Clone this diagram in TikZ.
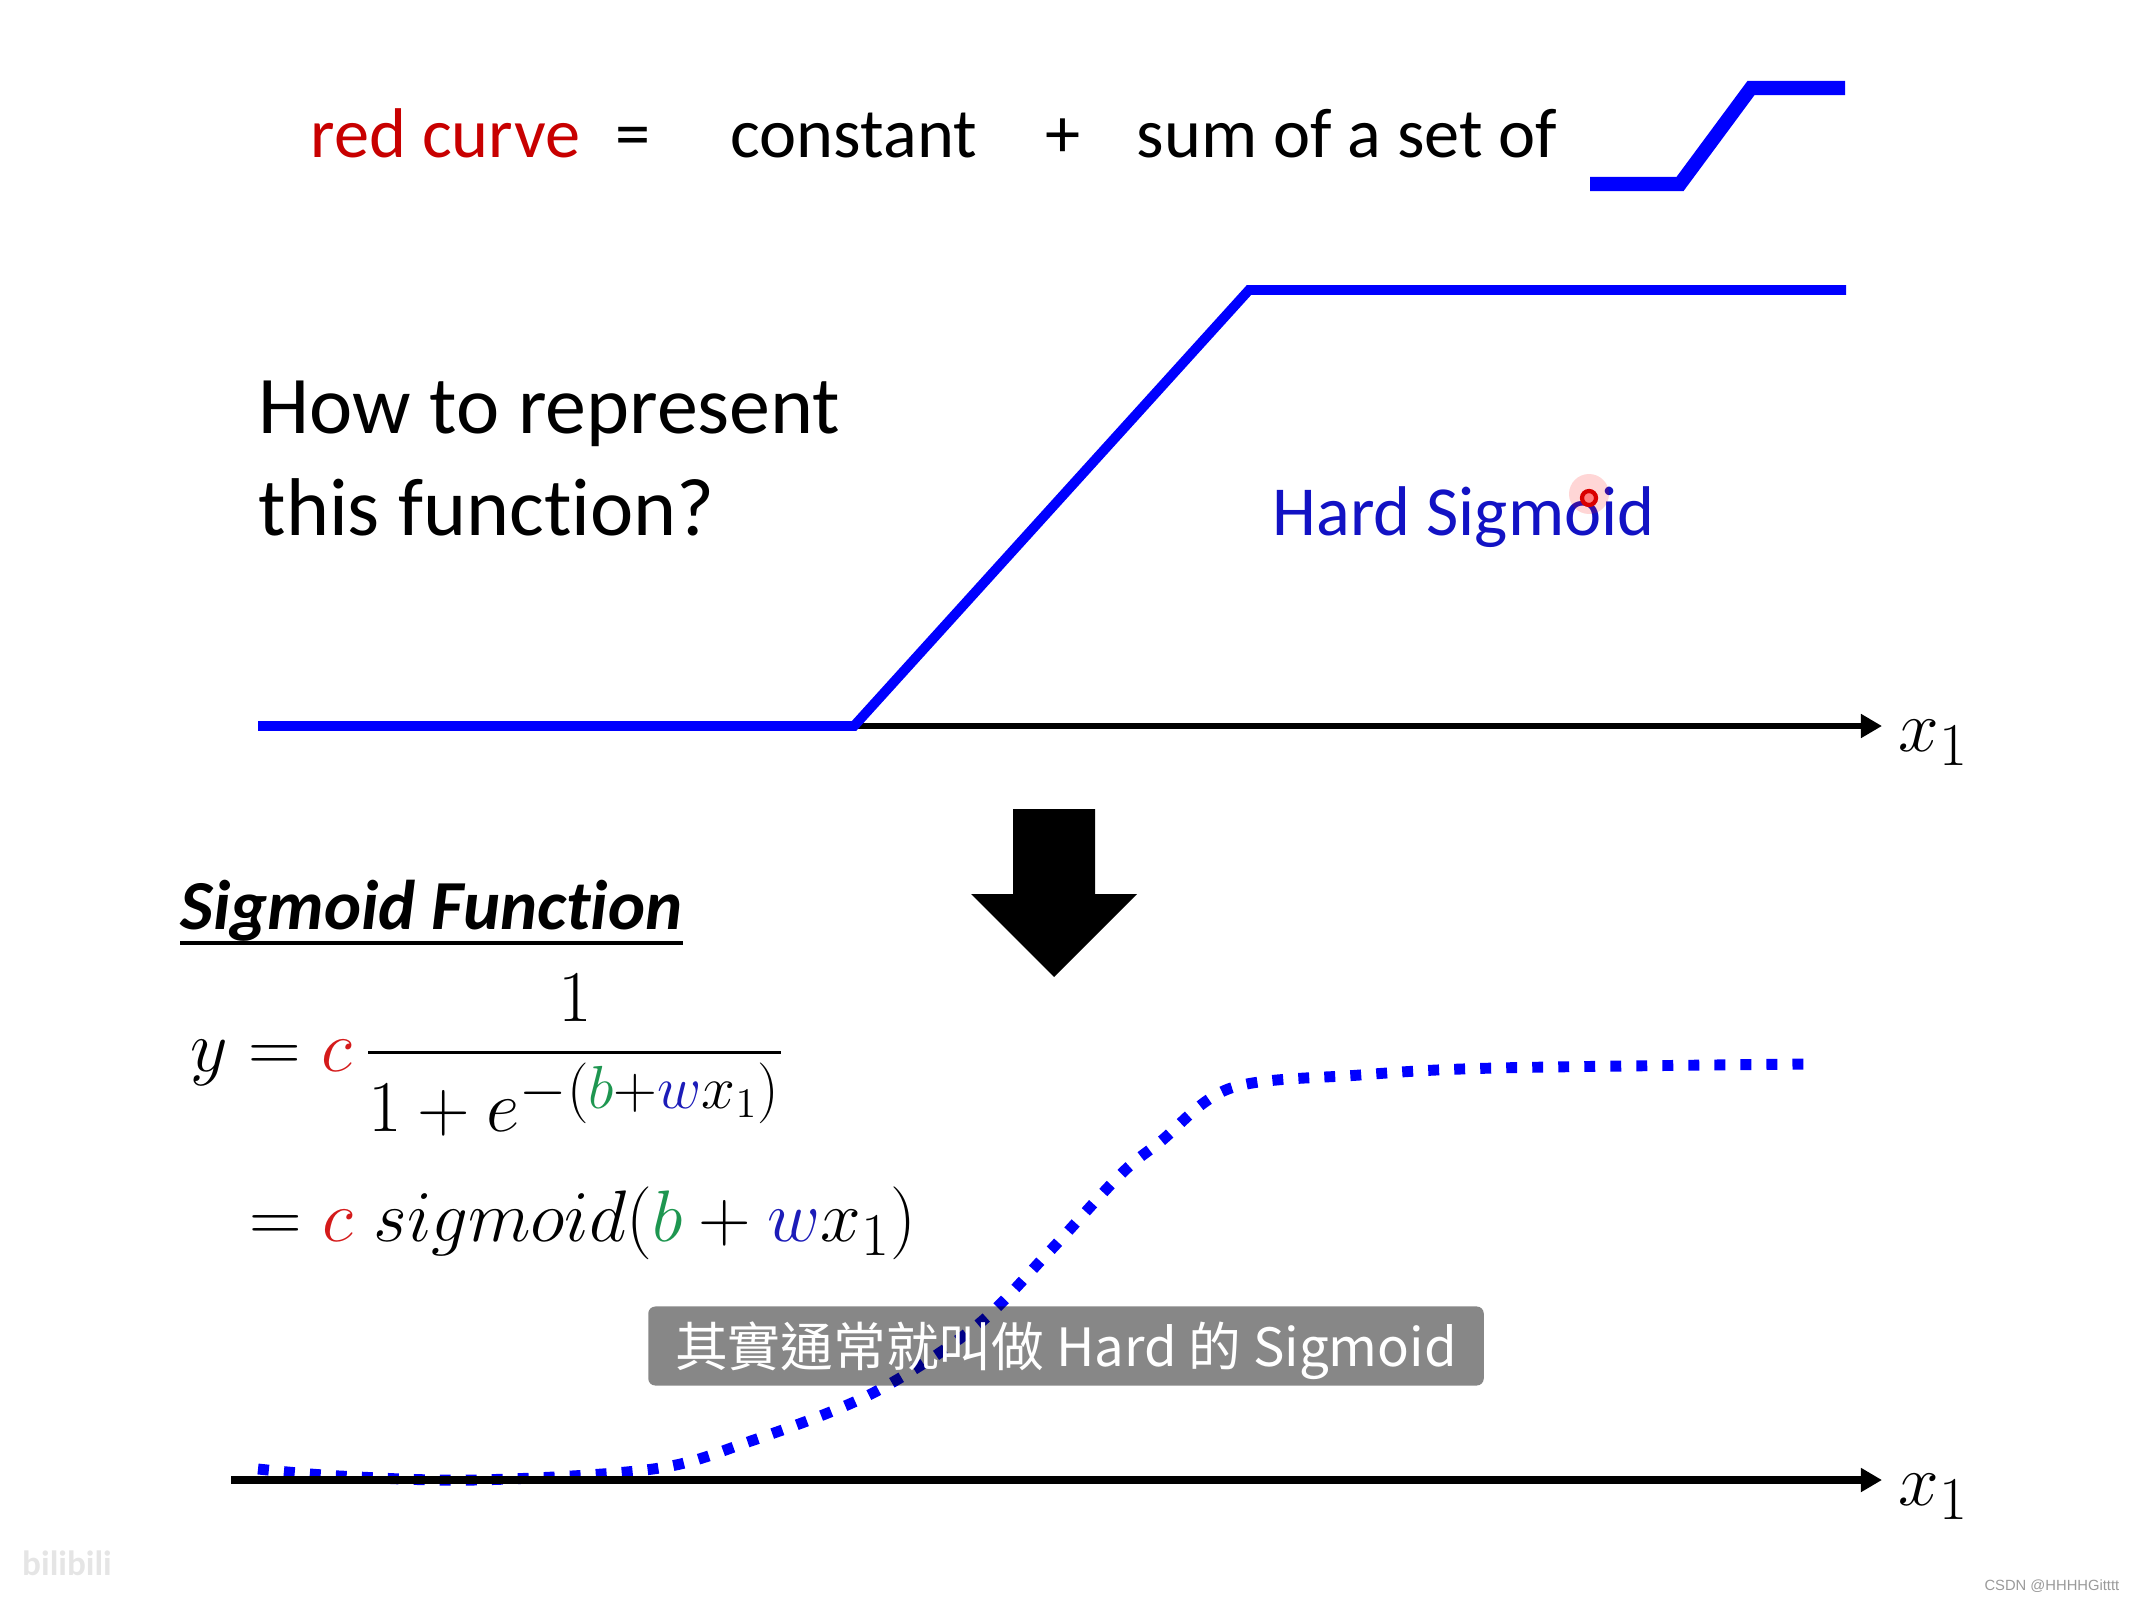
\documentclass[tikz,border=0pt]{standalone}
\usepackage{fontspec}
\setmainfont{Carlito}[Ligatures=NoCommon]
\newfontfamily\cjkfont{Noto Sans CJK TC}
\newfontfamily\marksans{Liberation Sans}
\usepackage{amsmath}
\DeclareMathSizes{22}{22}{16.5}{12}
\usetikzlibrary{arrows.meta,positioning,calc}
\definecolor{curveblue}{HTML}{0000FF}
\definecolor{labelblue}{HTML}{1212C4}
\definecolor{slidered}{HTML}{C80000}
\definecolor{mathred}{HTML}{D41A1A}
\definecolor{mathgreen}{HTML}{1E9650}
\definecolor{mathblue}{HTML}{1C1CB8}
\definecolor{markgray}{HTML}{9A9A9A}

\begin{document}
\begin{tikzpicture}[
  x=0.01cm, y=-0.01cm,
  slide/.style={font=\fontsize{20}{24}\selectfont, inner sep=0pt, anchor=base west},
  mathtxt/.style={font=\fontsize{22}{26}\selectfont, inner sep=0pt, anchor=base west},
  axis/.style={line width=1.7pt, -{Triangle[length=6pt, width=6.5pt]}},
  hard/.style={curveblue, line width=2.8pt, line join=miter},
  soft/.style={curveblue, line width=3.1pt, dash pattern=on 3.1pt off 4.3pt},
]
\useasboundingbox (0,0) rectangle (2133,1600);

% header line
\node[slide, text=slidered] (red) at (310,158) {red curve};
\node[slide] (eqs) at (615,158) {=};
\node[slide] (const) at (730,158) {constant};
\node[slide] (plus) at (1045,158) {+};
\node[slide] (sum) at (1136,158) {sum of a set of};
\draw[hard, line width=4pt] (1590,184) -- (1680,184) -- (1751,88) -- (1845,88);

% hard sigmoid
\coordinate (hs0) at (258,726);
\coordinate (hs1) at (854,726);
\coordinate (hs2) at (1249,290);
\coordinate (hs3) at (1846,290);
\coordinate (axa) at (1882,726);
\draw[axis] (hs0) -- (axa);
\draw[hard] (hs0) -- (hs1) -- (hs2) -- (hs3);
\node[mathtxt] (xa) at (1898,751) {$x_1$};

\node[slide, font=\fontsize{23.3}{29}\selectfont] (ask) at (258,433) {How to represent};
\node[slide, font=\fontsize{23.3}{29}\selectfont] (ask2) at (258,535) {this function?};
\node[slide, text=labelblue] (hslab) at (1272,535) {Hard Sigmoid};
\fill[red, opacity=0.16] (1589,494) circle (20);
\draw[red!85!black, line width=1.2pt, fill=red!50] (1589,498) circle (7);

% big arrow
\fill (1013,809) -- (1095,809) -- (1095,894) -- (1137,894) -- (1054,977)
  -- (971,894) -- (1013,894) -- cycle;

% sigmoid
\node[slide, font=\fontsize{20}{24}\selectfont\bfseries\itshape] (sigt) at (180,929) {Sigmoid Function};
\draw[line width=0.9pt] ($(sigt.base west)+(0,14)$) -- ($(sigt.base east)+(0,14)$);

\node[mathtxt] (eq1) at (190,1071)
  {$y = {\color{mathred}c}\,\dfrac{1}{1+e^{-({\color{mathgreen}b}+{\color{mathblue}w}x_1)}}$};
\node[mathtxt] (eq2) at (249,1241)
  {$= {\color{mathred}c}\; sigmoid({\color{mathgreen}b} + {\color{mathblue}w}x_1)$};

\coordinate (ab0) at (231,1480);
\coordinate (ab1) at (1882,1480);
\draw[soft] plot[smooth, tension=0.55] coordinates {(258,1469) (340,1476) (476,1480)
  (653,1469) (748,1442) (871,1394) (975,1327) (1048,1253) (1120,1175) (1160,1142)
  (1231,1088) (1360,1075) (1496,1068) (1809,1064)};
\draw[axis, line width=2.2pt] (ab0) -- (ab1);
\node[mathtxt] (xb) at (1898,1505) {$x_1$};

% caption and marks
\node[fill=black, fill opacity=0.47, text opacity=1, text=white, rounded corners=2pt,
      minimum width=8.35cm, minimum height=0.79cm, inner sep=0pt,
      font=\cjkfont\fontsize{15}{18}\selectfont] (cap) at (1066,1346)
  {\raisebox{-5.8pt}[0pt][0pt]{其實通常就叫做 Hard 的 Sigmoid}};
\node[font=\marksans\fontsize{4.2}{5}\selectfont, text=markgray, anchor=east, inner sep=0pt]
  (csdn) at (2120,1586) {CSDN @HHHHGitttt};
\node[font=\fontsize{10}{12}\selectfont\bfseries, text=black!10, inner sep=0pt] (bili) at (67,1563) {bilibili};
\end{tikzpicture}
\end{document}
